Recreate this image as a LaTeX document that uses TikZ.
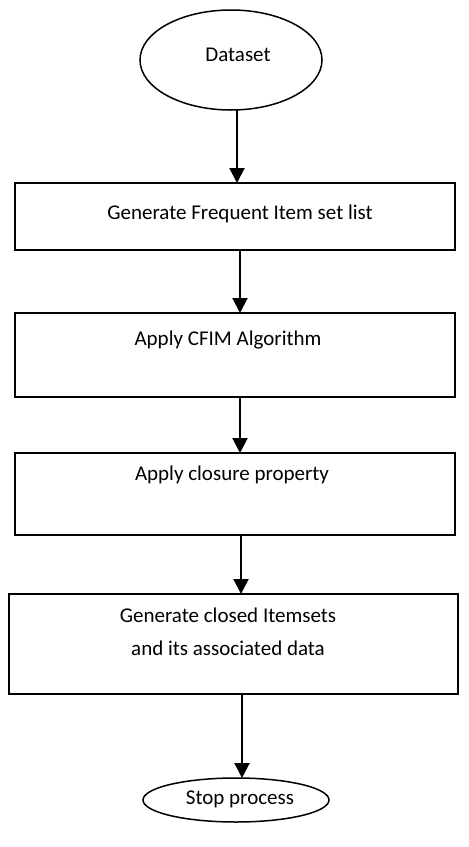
\documentclass[tikz,border=0pt]{standalone}
\usepackage{fontspec}
\setmainfont{Carlito}
\usetikzlibrary{arrows.meta,shapes.geometric}
\begin{document}
\begin{tikzpicture}[x=1pt,y=-1pt,
  stepbox/.style={draw, line width=1.3pt, inner sep=0pt, outer sep=0pt},
  oval/.style={ellipse, draw, line width=1.5pt, inner sep=0pt, outer sep=0pt},
  lbl/.style={font=\fontsize{21}{33}\selectfont, align=center, inner sep=0pt},
  arr/.style={line width=2pt, -{Triangle[width=15pt,length=15pt]}}]
  % page
  \fill[white] (0,0) rectangle (469,847);
  \useasboundingbox (0,0) rectangle (469,847);

  % start and end terminals
  \node[oval, minimum width=182pt, minimum height=100pt] (ds) at (231,60) {};
  \node[lbl] (tds) at (238,55) {Dataset};
  \node[oval, minimum width=186pt, minimum height=44pt] (stop) at (236,800) {};
  \node[lbl] (tstop) at (240,799) {Stop process};

  % process steps
  \node[stepbox, minimum width=440pt, minimum height=67pt] (b1) at (235,216.5) {};
  \node[lbl] (t1) at (240,214) {Generate Frequent Item set list};
  \node[stepbox, minimum width=440pt, minimum height=84pt] (b2) at (235,355) {};
  \node[lbl] (t2) at (228,340) {Apply CFIM Algorithm};
  \node[stepbox, minimum width=440pt, minimum height=82pt] (b3) at (235,494) {};
  \node[lbl] (t3) at (232,475) {Apply closure property};
  \node[stepbox, minimum width=449pt, minimum height=100pt] (b4) at (233.5,644) {};
  \node[lbl] (t4) at (228,632) {Generate closed Itemsets\\and its associated data};

  % connectors
  \draw[arr] (ds.south -| 237,0) -- (b1.north -| 237,0);
  \draw[arr] (b1.south -| 240,0) -- (b2.north -| 240,0);
  \draw[arr] (b2.south -| 240,0) -- (b3.north -| 240,0);
  \draw[arr] (b3.south -| 241,0) -- (b4.north -| 241,0);
  \draw[arr] (b4.south -| 242,0) -- (stop.north -| 242,0);
\end{tikzpicture}
\end{document}
